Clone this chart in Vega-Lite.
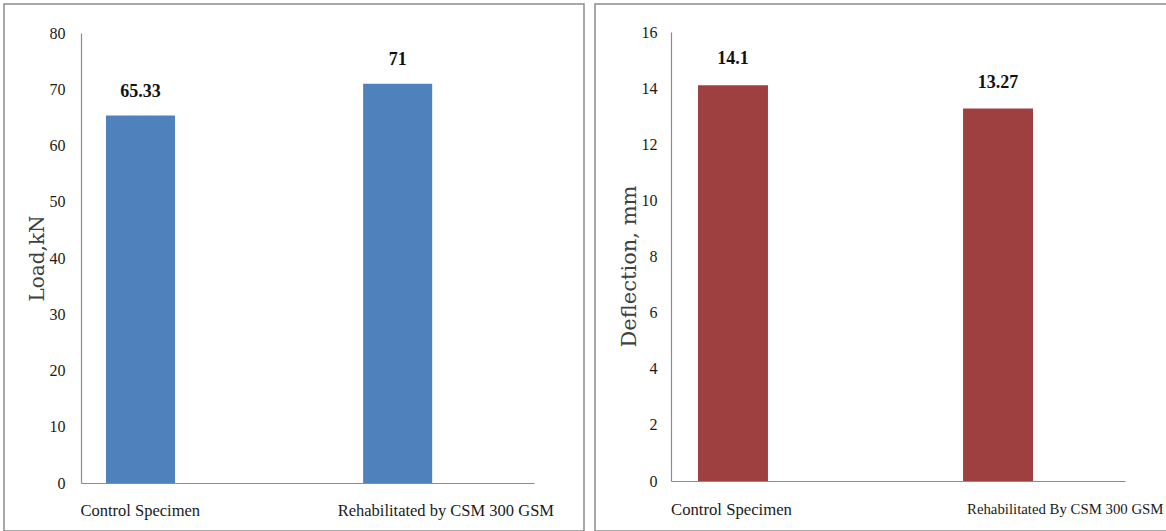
{
  "$schema": "https://vega.github.io/schema/vega-lite/v6.json",
  "padding": {"left": 3, "top": 3, "right": 0, "bottom": 0},
  "spacing": 9,
  "background": "white",
  "config": {
    "view": {"stroke": "#8c8c8c", "strokeWidth": 1.5},
    "axis": {
      "labelFont": "Liberation Serif",
      "labelColor": "#1a1a1a",
      "labelFontSize": 16,
      "labelLimit": 0,
      "domainColor": "#8c8c8c",
      "domainWidth": 1.2,
      "ticks": false,
      "grid": false,
      "titleFont": "DejaVu Serif",
      "titleFontWeight": "normal",
      "titleColor": "#404040",
      "titleFontSize": 20
    },
    "style": {"guide-label": {"font": "Liberation Serif"}}
  },
  "hconcat": [
    {
      "width": 580,
      "height": 527,
      "data": {
        "values": [
          {"specimen": "Control Specimen", "load": 65.33},
          {"specimen": "Rehabilitated by CSM 300 GSM", "load": 71}
        ]
      },
      "encoding": {
        "x": {
          "field": "specimen",
          "type": "nominal",
          "sort": null,
          "scale": {"range": [77, 530], "paddingInner": 0.7315, "paddingOuter": 0.2466, "align": 0.197},
          "axis": {"title": null, "labelAngle": 0, "labelAlign": "left", "labelBaseline": "top", "labelOffset": -60, "labelPadding": 19, "offset": -48, "labelFont": "Liberation Serif", "labelFontSize": 16.5, "labelLimit": 400}
        },
        "y": {
          "field": "load",
          "type": "quantitative",
          "scale": {"domain": [0, 80], "range": [479, 29], "nice": false, "zero": true},
          "axis": {"title": "Load,kN", "values": [0, 10, 20, 30, 40, 50, 60, 70, 80], "offset": -77, "labelPadding": 16, "labelFont": "Liberation Serif", "titlePadding": 2}
        }
      },
      "layer": [
        {"mark": {"type": "bar", "color": "#4F81BD"}},
        {
          "mark": {"type": "text", "baseline": "bottom", "dy": -15, "font": "Liberation Serif", "fontWeight": "bold", "fontSize": 18, "color": "#111111"},
          "encoding": {"text": {"field": "load", "type": "quantitative"}}
        }
      ]
    },
    {
      "width": 572,
      "height": 527,
      "data": {
        "values": [
          {"specimen": "Control Specimen", "deflection": 14.1},
          {"specimen": "Rehabilitated By CSM 300 GSM", "deflection": 13.27}
        ]
      },
      "encoding": {
        "x": {
          "field": "specimen",
          "type": "nominal",
          "sort": null,
          "scale": {"range": [76, 530], "paddingInner": 0.736, "paddingOuter": 0.2245, "align": 0.227},
          "axis": {
            "title": null,
            "labelAngle": 0,
            "labelAlign": "left",
            "labelBaseline": "top",
            "labelFont": "Liberation Serif",
            "labelLimit": 400,
            "labelOffset": {"condition": {"test": "datum.value === 'Control Specimen'", "value": -62}, "value": -31},
            "labelFontSize": {"condition": {"test": "datum.value === 'Control Specimen'", "value": 16.7}, "value": 14.8},
            "labelPadding": 20,
            "offset": -50
          }
        },
        "y": {
          "field": "deflection",
          "type": "quantitative",
          "scale": {"domain": [0, 16], "range": [477, 28], "nice": false, "zero": true},
          "axis": {"title": "Deflection, mm", "titleFontSize": 21, "titleY": 262, "values": [0, 2, 4, 6, 8, 10, 12, 14, 16], "offset": -76, "labelPadding": 14, "labelFont": "Liberation Serif", "titlePadding": 2}
        }
      },
      "layer": [
        {"mark": {"type": "bar", "color": "#9E4040"}},
        {
          "mark": {"type": "text", "baseline": "bottom", "dy": -17, "font": "Liberation Serif", "fontWeight": "bold", "fontSize": 18, "color": "#111111"},
          "encoding": {"text": {"field": "deflection", "type": "quantitative"}}
        }
      ]
    }
  ]
}
